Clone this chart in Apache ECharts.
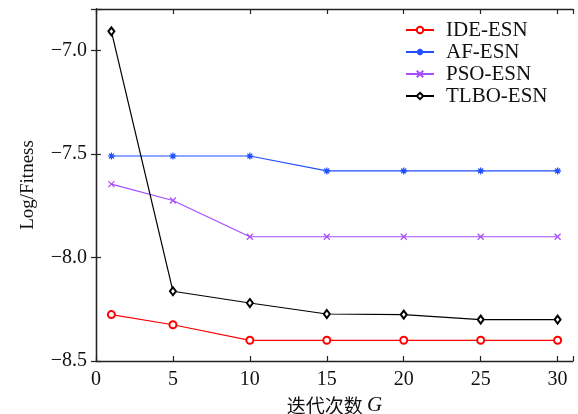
<!DOCTYPE html>
<html>
<head>
<meta charset="utf-8">
<script src="https://cdn.jsdelivr.net/npm/echarts@6/dist/echarts.min.js"></script>
<style>
  html, body { margin: 0; padding: 0; background: #fff; }
  #chart { width: 578px; height: 414px; }
</style>
</head>
<body>
<div id="chart"></div>
<script>
// iterations G
const iterations = [1, 5, 10, 15, 20, 25, 30];
const ideEsn = [-8.276, -8.325, -8.40, -8.40, -8.40, -8.40, -8.40];
const afEsn = [-7.51, -7.51, -7.51, -7.582, -7.582, -7.582, -7.582];
const psoEsn = [-7.646, -7.725, -7.90, -7.90, -7.90, -7.90, -7.90];
const tlboEsn = [-6.908, -8.163, -8.22, -8.273, -8.276, -8.30, -8.30];

const serif = "'Liberation Serif', 'DejaVu Serif', serif";
const frame = '#222';

const asterisk = 'path://M0,-5L0,5M-5,0L5,0M-3.5,-3.5L3.5,3.5M-3.5,3.5L3.5,-3.5';
const cross = 'path://M-4,-4L4,4M-4,4L4,-4';

const pair = (xs, ys) => xs.map((x, i) => [x, ys[i]]);
const minus = v => (v < 0 ? '\u2212' : '') + Math.abs(v).toFixed(1);

function mkSeries(name, data, color, symbol, size) {
  return {
    name, type: 'line', data: pair(iterations, data),
    symbol, symbolSize: size,
    lineStyle: { color, width: 1.2 },
    itemStyle: { color, borderColor: color, borderWidth: 1.2 },
    emphasis: { disabled: true },
    animation: false
  };
}

const chart = echarts.init(document.getElementById('chart'), null, { renderer: 'canvas' });
chart.setOption({
  backgroundColor: '#fff',
  textStyle: { fontFamily: serif },
  grid: { left: 96, top: 9, right: 5, bottom: 53, outerBoundsMode: 'none', containLabel: false },
  legend: {
    orient: 'vertical', left: 405, top: 19, padding: 0, itemGap: 0,
    itemWidth: 28, itemHeight: 8,
    textStyle: { fontFamily: serif, fontSize: 21, color: '#111', lineHeight: 22, padding: [0, 0, 0, 7] },
    data: ['IDE-ESN', 'AF-ESN', 'PSO-ESN', 'TLBO-ESN']
  },
  xAxis: [{
    type: 'value', min: 0, max: 31, interval: 5,
    name: '迭代次数 {i|G}', nameLocation: 'middle', nameGap: 30,
    nameTextStyle: {
      fontFamily: "'Noto Sans CJK SC', sans-serif", fontSize: 19, color: '#111',
      rich: { i: { fontFamily: serif, fontStyle: 'italic', fontSize: 21, color: '#111' } }
    },
    axisLine: { lineStyle: { color: frame, width: 1.3 } },
    axisTick: { inside: true, length: 5, lineStyle: { color: frame, width: 1.2 } },
    axisLabel: { fontFamily: serif, fontSize: 20, color: '#111', margin: 9,
      formatter: v => (v > 30 ? '' : String(v)) },
    splitLine: { show: false }
  }, {
    type: 'value', position: 'top', min: 0, max: 31, interval: 5,
    axisLine: { lineStyle: { color: frame, width: 1.3 } },
    axisTick: { inside: true, length: 5, lineStyle: { color: frame, width: 1.2 } },
    axisLabel: { show: false }, splitLine: { show: false }
  }],
  yAxis: [{
    type: 'value', min: -8.5, max: -6.8, interval: 0.5,
    name: 'Log/Fitness', nameLocation: 'middle', nameGap: 58,
    nameTextStyle: { fontFamily: serif, fontSize: 19, color: '#111' },
    axisLine: { show: true, lineStyle: { color: frame, width: 1.3 } },
    axisTick: { show: true, inside: true, length: 5, lineStyle: { color: frame, width: 1.2 } },
    axisLabel: { fontFamily: serif, fontSize: 20, color: '#111', margin: 9,
      formatter: v => (v > -6.9 ? '' : minus(v)) },
    splitLine: { show: false }
  }, {
    type: 'value', position: 'right', min: -8.5, max: -6.8, interval: 0.5,
    axisLine: { show: true, lineStyle: { color: frame, width: 1.3 } },
    axisTick: { show: true, inside: true, length: 5, lineStyle: { color: frame, width: 1.2 } },
    axisLabel: { show: false }, splitLine: { show: false }
  }],
  series: [
    mkSeries('IDE-ESN', ideEsn, '#ff0000', 'emptyCircle', 7),
    mkSeries('AF-ESN', afEsn, '#1f4fff', asterisk, 7),
    mkSeries('PSO-ESN', psoEsn, '#a64dff', cross, 6),
    mkSeries('TLBO-ESN', tlboEsn, '#000000', 'emptyDiamond', [6, 8])
  ]
});
</script>
</body>
</html>
